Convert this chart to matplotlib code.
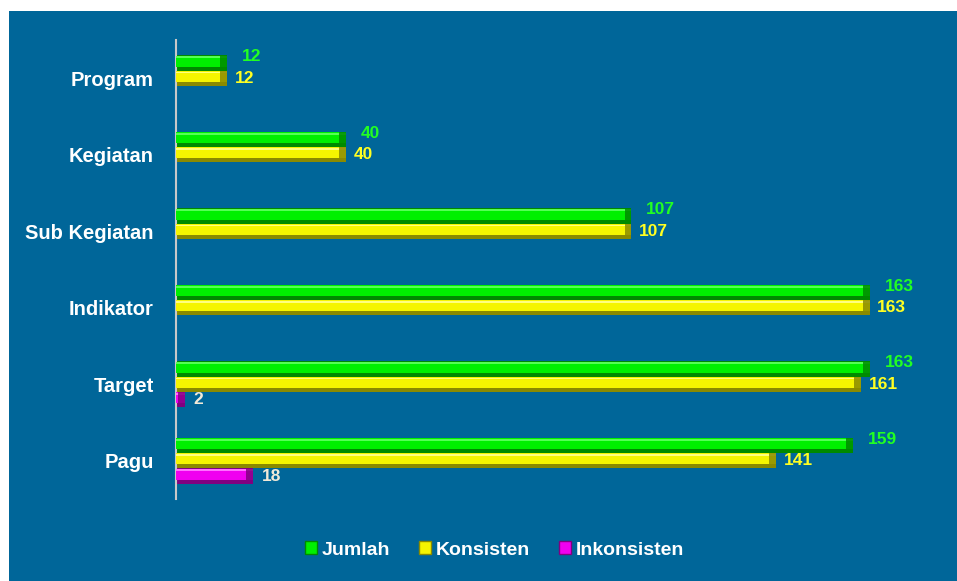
import matplotlib
matplotlib.use("Agg")
import matplotlib.pyplot as plt
from matplotlib.patches import Rectangle, Patch

categories = ["Program", "Kegiatan", "Sub Kegiatan", "Indikator", "Target", "Pagu"]
jumlah = [12, 40, 107, 163, 163, 159]
konsisten = [12, 40, 107, 163, 161, 141]
inkonsisten = [0, 0, 0, 0, 2, 18]
series_names = ["Jumlah", "Konsisten", "Inkonsisten"]

plt.rcParams['font.family'] = ['Liberation Sans', 'DejaVu Sans']
plt.rcParams['font.weight'] = 'bold'

BG = "#006699"
fig = plt.figure(figsize=(9.57, 5.81), dpi=100)
fig.patch.set_facecolor("white")
fig.add_artist(Rectangle((9/957, 0), 1 - 9/957, 1 - 11/581, transform=fig.transFigure,
                         facecolor=BG, edgecolor="none", zorder=-10))

ax = fig.add_axes([176/957, 1 - 499/581, 766/957, 459/581])
ax.set_facecolor("none")

styles = [
    # face, dark, highlight, label color, label dx, label dy
    ("#00f000", "#008a00", "#55ff55", "#22ff22", 3.5, -0.08),
    ("#f5f500", "#8a8a00", "#ffff80", "#ffff22", 1.8, 0.0),
    ("#f000f0", "#800080", "#ff70ff", "#f2ead8", 2.2, 0.0),
]
offsets = [-0.2, 0.0, 0.2]
h = 0.2
ys = list(range(len(categories)))
data = [jumlah, konsisten, inkonsisten]

for vals, (face, dark, hi, lc, dx, dy), off in zip(data, styles, offsets):
    yy = [y + off for y in ys]
    ax.barh(yy, vals, height=h, color=dark, edgecolor="none", zorder=2)
    ax.barh([y - h * 0.12 for y in yy], vals, height=h * 0.72, color=face, edgecolor="none", zorder=3)
    ax.barh([y - h * 0.38 for y in yy], vals, height=h * 0.12, color=hi, edgecolor="none", zorder=4)
    cap = [min(1.6, v) for v in vals]
    ax.barh(yy, cap, left=[v - c for v, c in zip(vals, cap)], height=h, color=dark,
            edgecolor="none", zorder=5, alpha=0.85)
    for y, v in zip(yy, vals):
        if v > 0:
            ax.text(v + dx, y + dy, str(v), color=lc, fontsize=12.5, fontweight='bold',
                    ha='left', va='center', zorder=6)

ax.set_xlim(0, 180)
ax.set_ylim(len(categories) - 0.5, -0.5)
ax.set_yticks(ys)
ax.set_yticklabels(categories, color="white", fontsize=14.5, fontweight='bold')
ax.tick_params(axis='y', length=0, pad=16)
ax.set_xticks([])
for s in ["top", "right", "bottom"]:
    ax.spines[s].set_visible(False)
ax.spines["left"].set_color("#c8c8c8")
ax.spines["left"].set_linewidth(1.5)

handles = [Patch(facecolor=styles[i][0], edgecolor=styles[i][1], label=series_names[i]) for i in range(3)]
leg = fig.legend(handles=handles, loc="center", bbox_to_anchor=(0.517, 1 - 550/581), ncol=3,
                 frameon=False, fontsize=14, handlelength=0.6, handleheight=0.6,
                 handletextpad=0.25, columnspacing=1.5)
for t in leg.get_texts():
    t.set_color("white")
    t.set_fontweight('bold')

fig.savefig("out.png", dpi=100, facecolor=fig.get_facecolor())
